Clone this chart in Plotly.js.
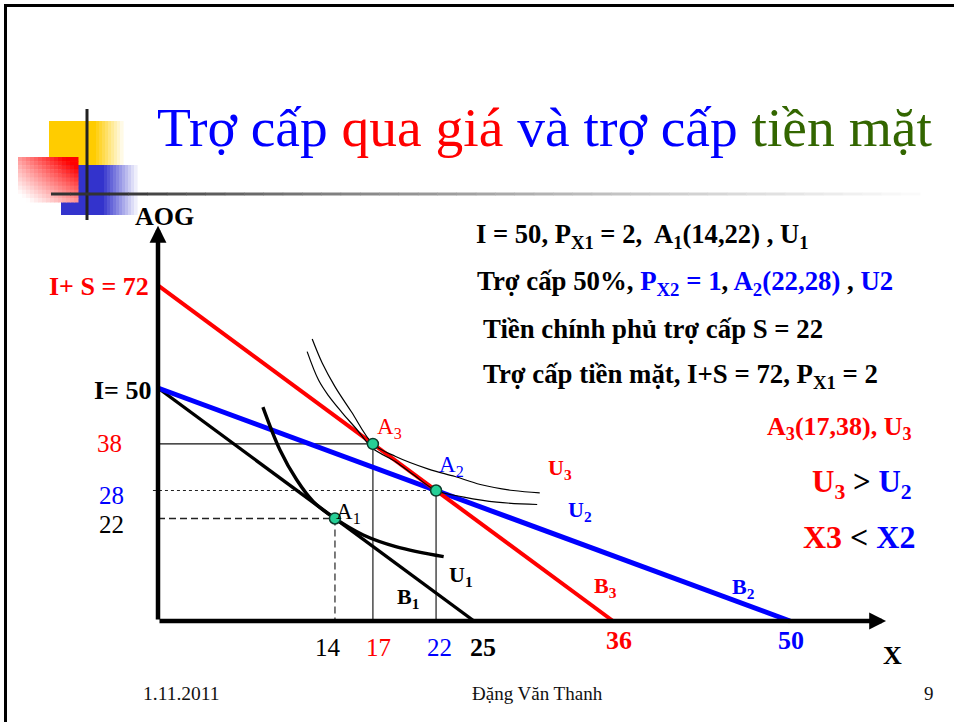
<!DOCTYPE html>
<html><head><meta charset="utf-8">
<script src="https://cdn.plot.ly/plotly-3.0.1.min.js"></script>
<style>html,body{margin:0;padding:0;background:#fff;}#chart{width:954px;height:722px;}</style>
</head><body><div id="chart"></div>
<script>
// ---------------- data ----------------
const budgetB1X = [0, 25], budgetB1Y = [50, 0];
const budgetB2X = [0, 50], budgetB2Y = [50, 0];
const budgetB3X = [0, 36], budgetB3Y = [72, 0];
const curveU1X = [8.3, 9.65, 10.97, 12.29, 14, 16.24, 18.88, 22.6];
const curveU1Y = [45.9, 36.7, 30.3, 25.6, 22, 18.45, 15.9, 13.8];
const curveU2X = [11.8, 12.7, 13.5, 14.6, 15.7, 17.0, 18.8, 20.3, 22, 24.2, 26.8, 30.0];
const curveU2Y = [57.8, 51.7, 48.3, 44.6, 41.2, 37.0, 34.2, 31.2, 28, 26.6, 25.5, 25.0];
const curveU3X = [12.2, 13.0, 14.0, 15.3, 17, 18.8, 21.4, 23.5, 25.5, 28.1, 30.2];
const curveU3Y = [60.5, 55.3, 50.3, 44.9, 38, 35.3, 32.6, 31.0, 29.3, 28.0, 27.5];
const pointNames = ['A<sub>1</sub>', 'A<sub>2</sub>', 'A<sub>3</sub>'];
const pointX = [14, 22, 17];
const pointY = [22, 28, 38];
const xTickVals = [14, 17, 22, 25, 36, 50];
const xTickText = ['14', '17', '22', '25', '36', '50'];
const yTickVals = [72, 50, 38, 28, 22];
const yTickText = ['I+ S = 72', 'I= 50', '38', '28', '22'];
const curveNames = ['U<sub>1</sub>', 'U<sub>2</sub>', 'U<sub>3</sub>'];
const budgetNames = ['B<sub>1</sub>', 'B<sub>2</sub>', 'B<sub>3</sub>'];

// ---------------- styles / layout ----------------
const FONT = '"Liberation Serif", "Times New Roman", serif';
const W = 954, H = 722;
const X0 = 158, Y0 = 621, PXU = 12.64, PYU = 4.66;
const xr = [-X0 / PXU, (W - X0) / PXU];
const yr = [-(H - Y0) / PYU, Y0 / PYU];
const RED = '#FF0000', BLUE = '#0000FF', GREEN = '#336600', BLACK = '#000000';
const px = x => x / W, py = y => 1 - y / H;

const traces = [];
function line(x, y, color, width, dash, shape) {
  traces.push({type: 'scatter', mode: 'lines', x: x, y: y, hoverinfo: 'skip',
    line: {color: color, width: width, dash: dash || 'solid', shape: shape || 'linear', smoothing: 1}});
}
// guide lines from points
line([0, pointX[0]], [pointY[0], pointY[0]], '#222', 1.4, '7px,4px');
line([pointX[0], pointX[0]], [pointY[0], 0], '#444', 1.4, '7px,4px');
line([-0.4, pointX[1]], [pointY[1], pointY[1]], '#222', 1.2, 'dot');
line([pointX[1], pointX[1]], [pointY[1], 0], '#555', 1.6);
line([0, pointX[2]], [pointY[2], pointY[2]], '#111', 1.2);
line([pointX[2], pointX[2]], [pointY[2], 0], '#555', 1.6);
// budget lines
line(budgetB1X, budgetB1Y, BLACK, 3.4);
line(budgetB2X, budgetB2Y, BLUE, 5);
line(budgetB3X, budgetB3Y, RED, 4);
// indifference curves
line(curveU1X, curveU1Y, BLACK, 3.4, 'solid', 'spline');
line(curveU2X, curveU2Y, BLACK, 1.2, 'solid', 'spline');
line(curveU3X, curveU3Y, BLACK, 1.2, 'solid', 'spline');
// points
traces.push({type: 'scatter', mode: 'markers', x: pointX, y: pointY, hoverinfo: 'skip',
  marker: {size: 11, color: '#26CF96', line: {color: '#0b3b2b', width: 1.5}}});

const ann = [];
function ptxt(x, y, text, size, color, xanchor, bold) {
  ann.push({xref: 'paper', yref: 'paper', x: px(x), y: py(y), text: bold ? '<b>' + text + '</b>' : text,
    showarrow: false, xanchor: xanchor || 'center', yanchor: 'middle',
    font: {family: FONT, size: size, color: color}});
}
function dtxt(x, y, text, size, color, bold, xshift, yshift, xanchor) {
  ann.push({xref: 'x', yref: 'y', x: x, y: y, text: bold ? '<b>' + text + '</b>' : text,
    showarrow: false, xanchor: xanchor || 'center', yanchor: 'middle', xshift: xshift || 0, yshift: yshift || 0,
    font: {family: FONT, size: size, color: color}});
}
// axis arrows
ann.push({xref: 'x', yref: 'y', axref: 'x', ayref: 'y', x: 57.6, y: 0, ax: 0, ay: 0, text: '',
  showarrow: true, arrowhead: 2, arrowsize: 0.75, arrowwidth: 4.5, arrowcolor: BLACK, standoff: 0});
ann.push({xref: 'x', yref: 'y', axref: 'x', ayref: 'y', x: 0, y: 84.8, ax: 0, ay: 0, text: '',
  showarrow: true, arrowhead: 2, arrowsize: 0.75, arrowwidth: 4.5, arrowcolor: BLACK, standoff: 0});
ptxt(164, 216, 'AOG', 26, BLACK, 'center', true);
ptxt(892, 655, 'X', 26, BLACK, 'center', true);

// tick labels
const xTickStyle = [
  {c: BLACK, b: false, s: 25, dx: -7, dy: -26},
  {c: RED, b: false, s: 25, dx: 6, dy: -26},
  {c: BLUE, b: false, s: 25, dx: 3, dy: -26},
  {c: BLACK, b: true, s: 26, dx: 9, dy: -26},
  {c: RED, b: true, s: 26, dx: 6, dy: -19},
  {c: BLUE, b: true, s: 26, dx: 1, dy: -19}];
xTickVals.forEach((v, i) => { const s = xTickStyle[i]; dtxt(v, 0, xTickText[i], s.s, s.c, s.b, s.dx, s.dy); });
const yTickStyle = [
  {c: RED, b: true, s: 26, dx: -7, dy: -1.5},
  {c: BLACK, b: true, s: 26, dx: -5, dy: -2.5},
  {c: RED, b: false, s: 25, dx: -34, dy: 0},
  {c: BLUE, b: false, s: 25, dx: -32, dy: -5},
  {c: BLACK, b: false, s: 25, dx: -32, dy: -6.5}];
yTickVals.forEach((v, i) => { const s = yTickStyle[i]; dtxt(0, v, yTickText[i], s.s, s.c, s.b, s.dx, s.dy, 'right'); });

// point labels
const pointLabelPos = [[15.1, 23.2], [23.2, 33.3], [18.3, 41.4]];
const pointLabelColor = [BLACK, BLUE, RED];
pointNames.forEach((n, i) => dtxt(pointLabelPos[i][0], pointLabelPos[i][1], n, 23, pointLabelColor[i], false));
// curve labels
const curveLabelPos = [[24.0, 9.7], [33.4, 23.6], [31.8, 32.6]];
const curveLabelColor = [BLACK, BLUE, RED];
curveNames.forEach((n, i) => dtxt(curveLabelPos[i][0], curveLabelPos[i][1], n, 22, curveLabelColor[i], true));
const budgetLabelPos = [[19.8, 4.9], [46.3, 7.1], [35.4, 7.3]];
const budgetLabelColor = [BLACK, BLUE, RED];
budgetNames.forEach((n, i) => dtxt(budgetLabelPos[i][0], budgetLabelPos[i][1], n, 22, budgetLabelColor[i], true));

// right-hand text block
const bl = t => '<span style="color:' + BLUE + '">' + t + '</span>';
ptxt(474, 236, 'I = 50, P<sub>X1</sub> = 2,&nbsp; A<sub>1</sub>(14,22) , U<sub>1</sub>', 26.6, BLACK, 'left', true);
ptxt(475, 283, 'Trợ cấp 50%, ' + bl('P<sub>X2</sub> = 1') + ', ' + bl('A<sub>2</sub>(22,28)') + ' , ' + bl('U2'), 26.8, BLACK, 'left', true);
ptxt(481, 329, 'Tiền chính phủ trợ cấp S = 22', 26.8, BLACK, 'left', true);
ptxt(481, 376, 'Trợ cấp tiền mặt, I+S = 72, P<sub>X1</sub> = 2', 26.8, BLACK, 'left', true);
ptxt(914, 428, 'A<sub>3</sub>(17,38), U<sub>3</sub>', 26, RED, 'right', true);
ptxt(914, 484, 'U<sub>3</sub> <span style="color:#000">&gt;</span> ' + bl('U<sub>2</sub>'), 31, RED, 'right', true);
ptxt(917, 537, 'X3 <span style="color:#000">&lt;</span> ' + bl('X2'), 32, RED, 'right', true);

// footer
ptxt(181, 693, '1.11.2011', 19.5, '#111', 'center', false);
ptxt(537, 693, 'Đặng Văn Thanh', 19, '#111', 'center', false);
ptxt(929, 693, '9', 19, '#111', 'center', false);

// ---------------- slide decoration ----------------
const shapes = [];
function rect(x0, y0, x1, y1, color) {
  shapes.push({type: 'rect', xref: 'paper', yref: 'paper', x0: px(x0), x1: px(x1), y0: py(y1), y1: py(y0),
    fillcolor: color, line: {width: 0}, layer: 'below'});
}
function seg(x0, y0, x1, y1, color, width) {
  shapes.push({type: 'line', xref: 'paper', yref: 'paper', x0: px(x0), x1: px(x1), y0: py(y0), y1: py(y1),
    line: {color: color, width: width}, layer: 'below'});
}
function mix(c, t) {
  return 'rgb(' + c.map(v => Math.round(255 + (v - 255) * t)).join(',') + ')';
}
// yellow square
rect(49, 121, 96, 165, '#FFCC00');
for (let i = 0; i < 9; i++) rect(96 + i * 3, 121, 99 + i * 3 + 0.6, 165, mix([255, 204, 0], 1 - (i + 1) / 10));
// blue square
rect(61, 165, 104, 215, '#3333CC');
for (let i = 0; i < 11; i++) rect(104 + i * 3, 165, 107 + i * 3 + 0.6, 215, mix([51, 51, 204], 1 - (i + 1) / 12));
// red gradient square
const nx = 15, ny = 11;
for (let i = 0; i < nx; i++) for (let j = 0; j < ny; j++) {
  const u = (i + 0.5) / nx, v = 1 - (j + 0.5) / ny;
  let t = 0.5 * u + 0.5 * v + 0.3 * u * v - 0.1;
  t = Math.max(0, Math.min(1, t));
  const x0 = 18 + i * 60 / nx, y0 = 157 + j * 45 / ny;
  rect(x0, y0, x0 + 60 / nx + 0.5, y0 + 45 / ny + 0.5, mix([255, 0, 0], t));
}
// cross lines
seg(87, 109, 87, 220, '#222', 3);
const nseg = 45;
for (let i = 0; i < nseg; i++) {
  const a = 51 + i * (920 - 51) / nseg, b = a + (920 - 51) / nseg + 0.5;
  const f = Math.min(1, Math.max(0, (a - 120) / 780));
  const g = Math.round(0x33 + (250 - 0x33) * Math.pow(f, 0.7));
  seg(a, 194, b, 194, 'rgb(' + g + ',' + g + ',' + g + ')', 3);
}
// slide frame
seg(5.5, 4, 5.5, 722, '#000', 3);
seg(4, 5.5, 954, 5.5, '#000', 3.2);

const layout = {
  width: W, height: H, autosize: false,
  margin: {l: 0, r: 0, t: 0, b: 0, pad: 0},
  paper_bgcolor: '#fff', plot_bgcolor: 'rgba(0,0,0,0)',
  showlegend: false,
  title: {
    text: 'Trợ cấp <span style="color:' + RED + '">qua giá</span> và trợ cấp <span style="color:' + GREEN + '">tiền mặt</span>',
    font: {family: FONT, size: 55.5, color: BLUE},
    x: px(157), xanchor: 'left', y: py(127), yanchor: 'middle', xref: 'container', yref: 'container'
  },
  xaxis: {range: xr, visible: false, fixedrange: true},
  yaxis: {range: yr, visible: false, fixedrange: true},
  annotations: ann,
  shapes: shapes
};
Plotly.newPlot('chart', traces, layout, {displayModeBar: false, staticPlot: true});
</script>
</body></html>
